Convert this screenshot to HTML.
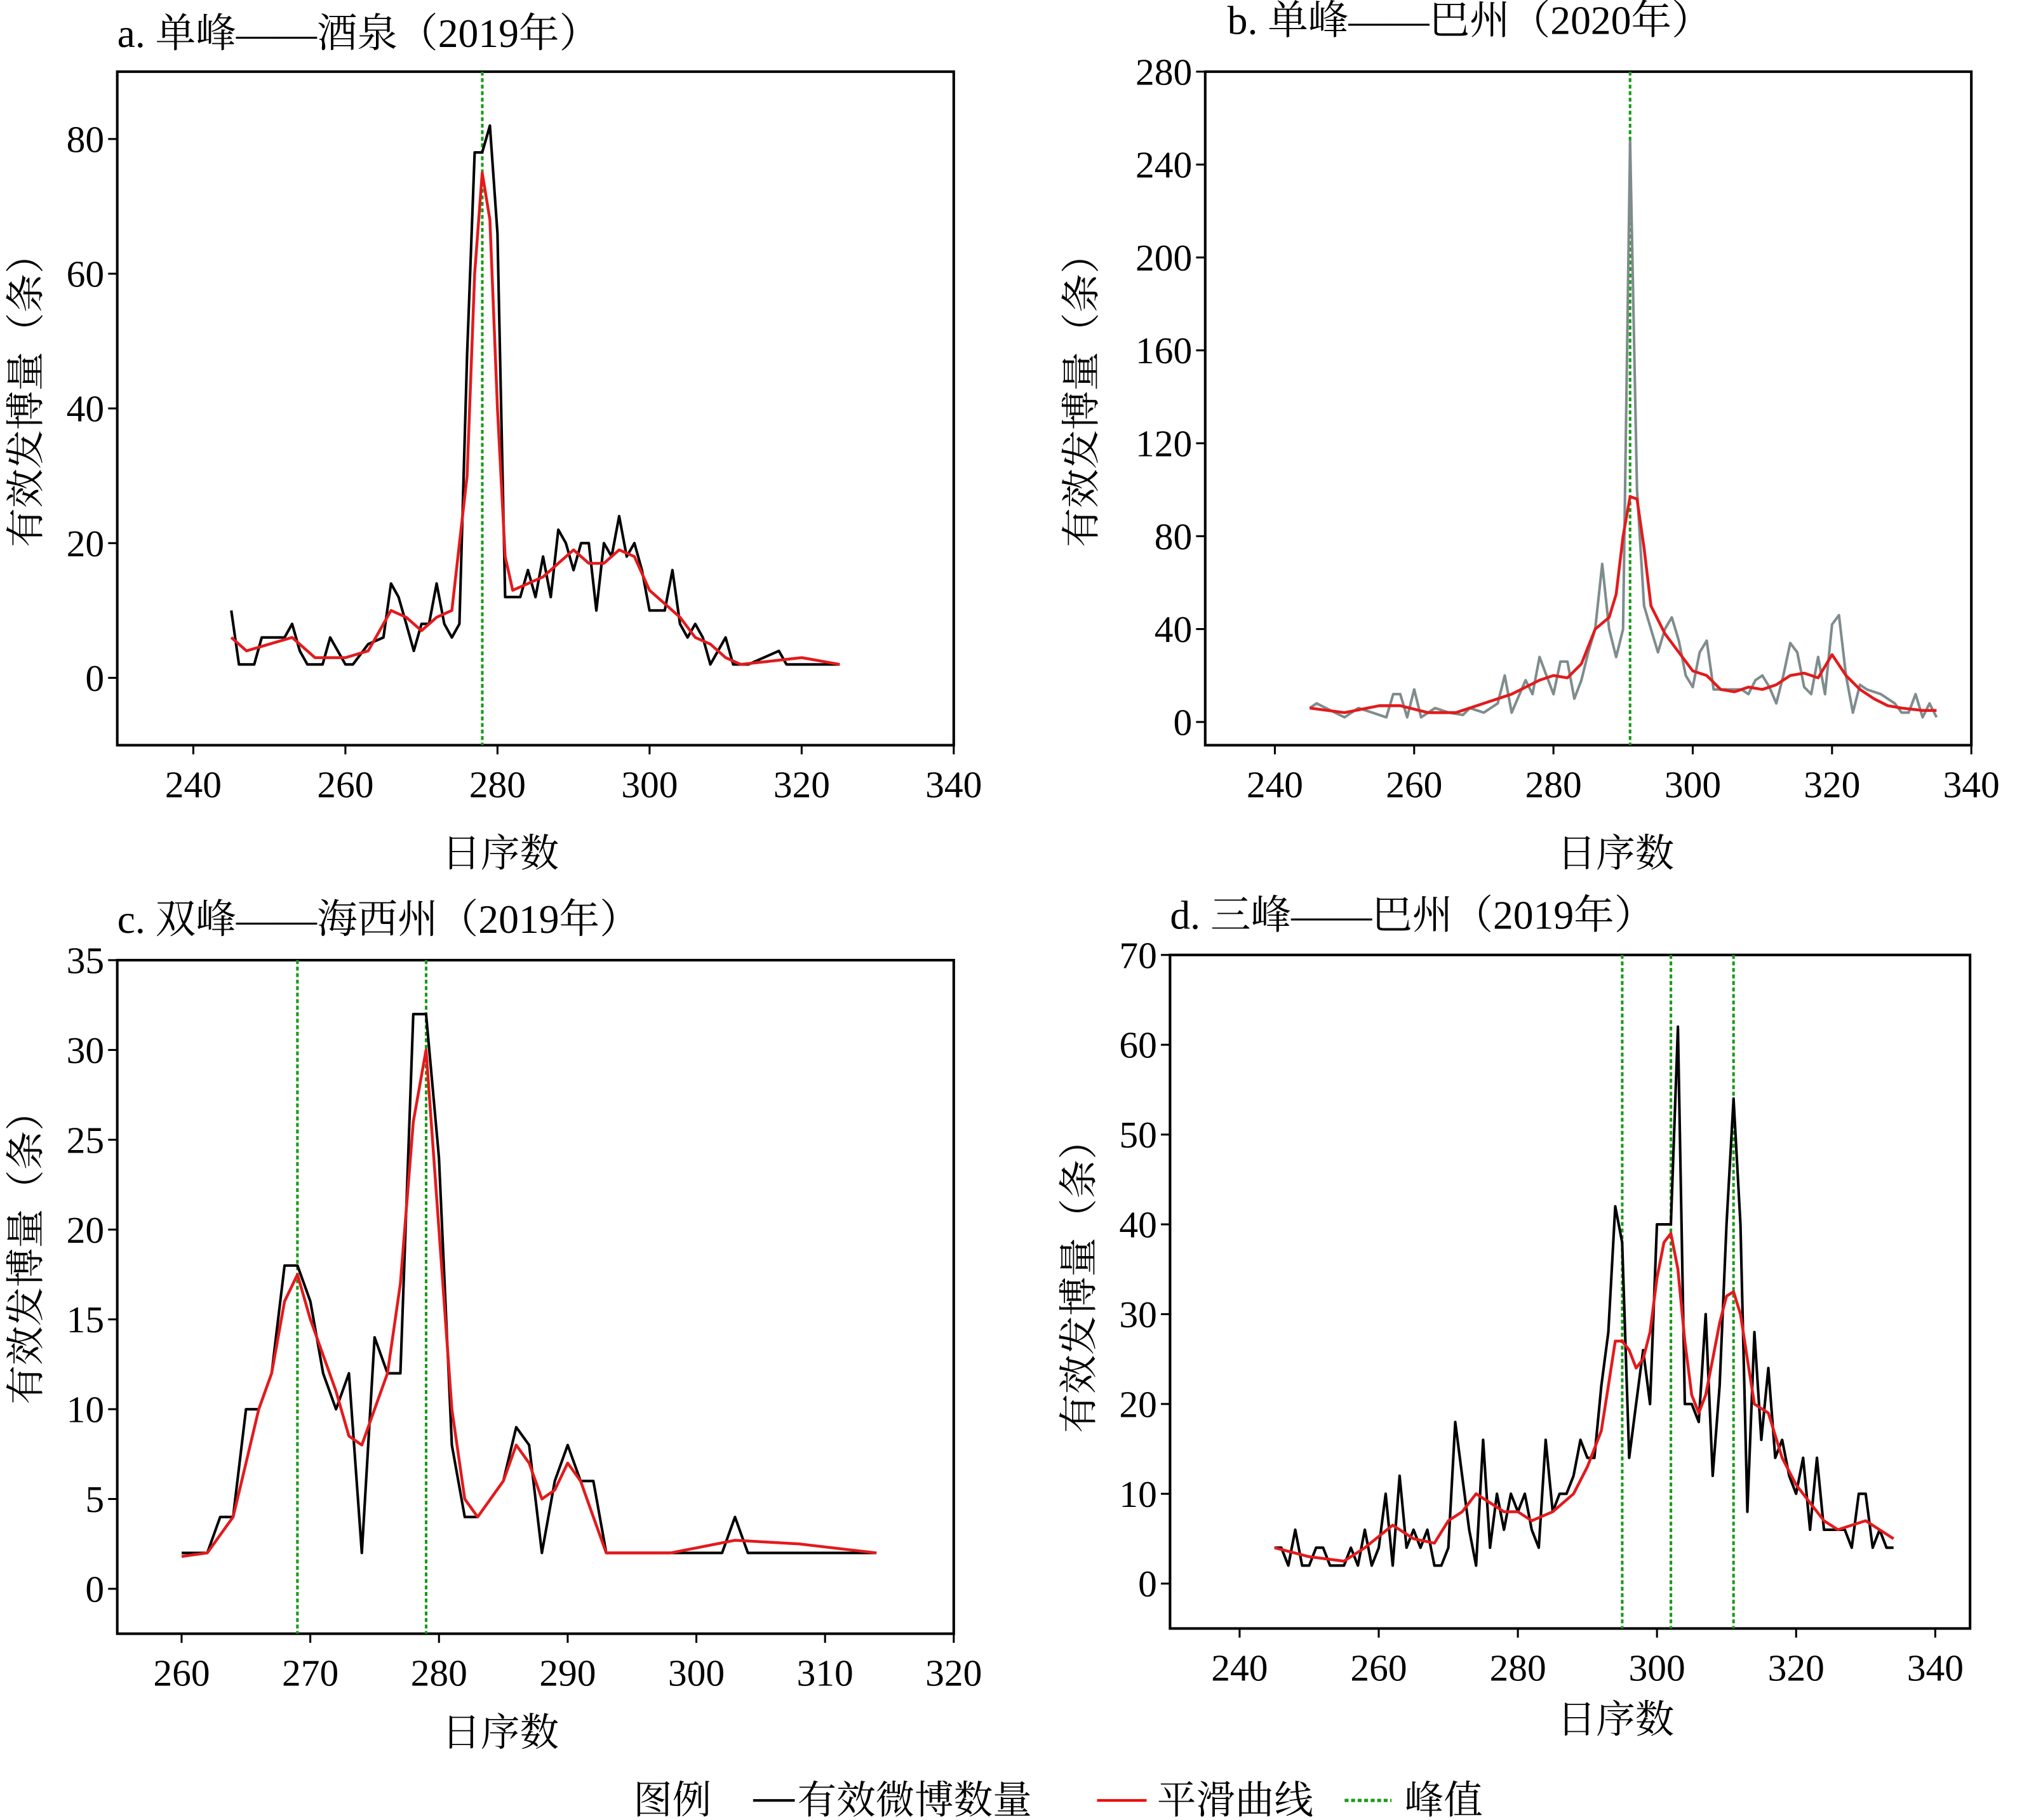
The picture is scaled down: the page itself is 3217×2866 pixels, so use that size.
<!DOCTYPE html>
<html><head><meta charset="utf-8">
<style>
html,body{margin:0;padding:0;background:#fff;}
svg{display:block;}
text{font-family:"Liberation Serif","Noto Serif CJK SC",serif;fill:#000;}
</style></head>
<body>
<svg id="s" width="3217" height="2866" viewBox="0 0 1568 1397" preserveAspectRatio="none" xmlns="http://www.w3.org/2000/svg">
<rect width="1568" height="1397" fill="#fff"/>
<g id="g"></g>
<text x="90" y="36" font-size="31">a. 单峰——酒泉（2019年）</text>
<text x="942" y="26" font-size="31">b. 单峰——巴州（2020年）</text>
<text x="90" y="716" font-size="31">c. 双峰——海西州（2019年）</text>
<text x="898" y="713" font-size="31">d. 三峰——巴州（2019年）</text>
<text x="384" y="665" font-size="30" text-anchor="middle">日序数</text>
<text x="1240" y="665" font-size="30" text-anchor="middle">日序数</text>
<text x="384" y="1340" font-size="30" text-anchor="middle">日序数</text>
<text x="1240" y="1330" font-size="30" text-anchor="middle">日序数</text>
<text transform="translate(30,300) rotate(-90)" font-size="30" text-anchor="middle">有效发博量（条）</text>
<text transform="translate(840,300) rotate(-90)" font-size="30" text-anchor="middle">有效发博量（条）</text>
<text transform="translate(30,958) rotate(-90)" font-size="30" text-anchor="middle">有效发博量（条）</text>
<text transform="translate(838,980) rotate(-90)" font-size="30" text-anchor="middle">有效发博量（条）</text>
<text x="486" y="1392" font-size="30">图例</text>
<line x1="578" y1="1382" x2="610" y2="1382" stroke="#000" stroke-width="2"/>
<text x="612" y="1392" font-size="30">有效微博数量</text>
<line x1="842" y1="1382" x2="880" y2="1382" stroke="#e00" stroke-width="2"/>
<text x="888" y="1392" font-size="30">平滑曲线</text>
<line x1="1032" y1="1382" x2="1068" y2="1382" stroke="#1a9a1a" stroke-width="2.5" stroke-dasharray="3,2"/>
<text x="1078" y="1392" font-size="30">峰值</text>
</svg>
<script>
const NS="http://www.w3.org/2000/svg",G=document.getElementById('g');
function el(t,a,txt){const e=document.createElementNS(NS,t);for(const k in a)e.setAttribute(k,a[k]);if(txt!==undefined)e.textContent=txt;G.appendChild(e);return e;}
function P(s){return s.trim().split(/\s+/).map(p=>p.split(':').map(Number));}
function panel(o){
 const sx=d=>o.x0+(d-o.dmin)*(o.x1-o.x0)/(o.dmax-o.dmin);
 const sy=v=>o.y1-(v-o.vmin)*(o.y1-o.y0)/(o.vmax-o.vmin);
 el('rect',{x:o.x0,y:o.y0,width:o.x1-o.x0,height:o.y1-o.y0,fill:'none',stroke:'#000','stroke-width':2});
 o.xt.forEach(t=>{const x=sx(t);el('line',{x1:x,y1:o.y1,x2:x,y2:o.y1+7,stroke:'#000','stroke-width':1.5});el('text',{x:x,y:o.y1+40,'font-size':29,'text-anchor':'middle'},t);});
 o.yt.forEach(t=>{const y=sy(t);el('line',{x1:o.x0-7,y1:y,x2:o.x0,y2:y,stroke:'#000','stroke-width':1.5});el('text',{x:o.x0-10,y:y+10,'font-size':29,'text-anchor':'end'},t);});
 o.peaks.forEach(p=>{const x=sx(p);el('line',{x1:x,y1:o.y0,x2:x,y2:o.y1,stroke:'#1a9a1a','stroke-width':2,'stroke-dasharray':'3,2'});});
 const path=(d,c,w)=>el('polyline',{points:P(d).map(p=>sx(p[0]).toFixed(1)+','+sy(p[1]).toFixed(1)).join(' '),fill:'none',stroke:c,'stroke-width':w,'stroke-linejoin':'round'});
 path(o.raw,o.rc||'#000',2); path(o.sm,'#e31a1c',2.2);
}
panel({x0:90,x1:732,y0:55,y1:572,dmin:230,dmax:340,vmin:-10,vmax:90,xt:[240,260,280,300,320,340],yt:[0,20,40,60,80],peaks:[278],
raw:"245:10 246:2 248:2 249:6 252:6 253:8 254:4 255:2 257:2 258:6 260:2 261:2 263:5 265:6 266:14 267:12 268:8 269:4 270:8 271:8 272:14 273:8 274:6 275:8 276:48 277:78 278:78 279:82 280:66 281:12 283:12 284:16 285:12 286:18 287:12 288:22 289:20 290:16 291:20 292:20 293:10 294:20 295:18 296:24 297:18 298:20 299:16 300:10 302:10 303:16 304:8 305:6 306:8 307:6 308:2 310:6 311:2 313:2 317:4 318:2 325:2",
sm:"245:6 247:4 250:5 253:6 256:3 260:3 263:4 266:10 268:9 270:7 272:9 274:10 276:30 277:60 278:75 279:68 280:40 281:18 282:13 284:14 286:15 288:17 290:19 292:17 294:17 296:19 298:18 300:13 302:11 304:9 306:6 308:5 310:3 312:2 316:2.5 320:3 325:2"});
panel({x0:925,x1:1513,y0:55,y1:572,dmin:230,dmax:340,vmin:-10,vmax:280,xt:[240,260,280,300,320,340],yt:[0,40,80,120,160,200,240,280],peaks:[291],rc:'#7f8c8d',
raw:"245:6 246:8 248:5 250:2 252:6 254:4 256:2 257:12 258:12 259:2 260:14 261:2 263:6 265:4 267:3 268:6 270:4 272:8 273:20 274:4 276:18 277:12 278:28 279:20 280:12 281:26 282:26 283:10 284:18 285:30 286:40 287:68 288:40 289:28 290:40 291:250 292:100 293:50 294:40 295:30 296:40 297:45 298:35 299:20 300:15 301:30 302:35 303:14 305:14 307:14 308:12 309:18 310:20 311:15 312:8 313:20 314:34 315:30 316:15 317:12 318:28 319:12 320:42 321:46 322:20 323:4 324:16 325:14 327:12 329:8 330:4 331:4 332:12 333:2 334:8 335:2",
sm:"245:6 250:4 255:7 258:7 262:4 266:4 270:8 274:12 278:18 280:20 282:19 284:25 286:40 288:45 289:55 290:80 291:97 292:96 293:75 294:50 296:38 298:30 300:22 302:20 304:14 306:13 308:15 310:14 312:16 314:20 316:21 318:19 320:29 322:20 324:14 326:10 328:7 330:6 333:5 335:5"});
panel({x0:90,x1:732,y0:737,y1:1254,dmin:255,dmax:320,vmin:-2.5,vmax:35,xt:[260,270,280,290,300,310,320],yt:[0,5,10,15,20,25,30,35],peaks:[269,279],
raw:"260:2 262:2 263:4 264:4 265:10 266:10 267:12 268:18 269:18 270:16 271:12 272:10 273:12 274:2 275:14 276:12 277:12 278:32 279:32 280:24 281:8 282:4 283:4 285:6 286:9 287:8 288:2 289:6 290:8 291:6 292:6 293:2 302:2 303:4 304:2 314:2",
sm:"260:1.8 262:2 264:4 265:7 266:10 267:12 268:16 269:17.5 270:15 272:11 273:8.5 274:8 275:10 276:12 277:17 278:26 279:30 280:20 281:10 282:5 283:4 285:6 286:8 287:7 288:5 289:5.5 290:7 291:6 292:4 293:2 298:2 303:2.7 308:2.5 314:2"});
panel({x0:898,x1:1512,y0:733,y1:1250,dmin:230,dmax:345,vmin:-5,vmax:70,xt:[240,260,280,300,320,340],yt:[0,10,20,30,40,50,60,70],peaks:[295,302,311],
raw:"245:4 246:4 247:2 248:6 249:2 250:2 251:4 252:4 253:2 255:2 256:4 257:2 258:6 259:2 260:4 261:10 262:2 263:12 264:4 265:6 266:4 267:6 268:2 269:2 270:4 271:18 272:12 273:6 274:2 275:16 276:4 277:10 278:6 279:10 280:8 281:10 282:6 283:4 284:16 285:8 286:10 287:10 288:12 289:16 290:14 291:14 292:22 293:28 294:42 295:38 296:14 297:20 298:26 299:20 300:40 301:40 302:40 303:62 304:20 305:20 306:18 307:30 308:12 309:22 310:40 311:54 312:40 313:8 314:28 315:16 316:24 317:14 318:16 319:12 320:10 321:14 322:6 323:14 324:6 325:6 326:6 327:6 328:4 329:10 330:10 331:4 332:6 333:4 334:4",
sm:"245:4 250:3 255:2.5 258:4 262:6.5 265:5 268:4.5 270:7 272:8 274:10 276:9 278:8 280:8 282:7 285:8 288:10 290:13 292:17 293:22 294:27 295:27 296:26 297:24 298:25 299:28 300:34 301:38 302:39 303:35 304:27 305:21 306:19 307:21 308:25 309:29 310:32 311:32.5 312:30 313:25 314:20 316:19 318:14 320:11 322:9 324:7 326:6 328:6.5 330:7 332:6 334:5"});
</script>
</body></html>
